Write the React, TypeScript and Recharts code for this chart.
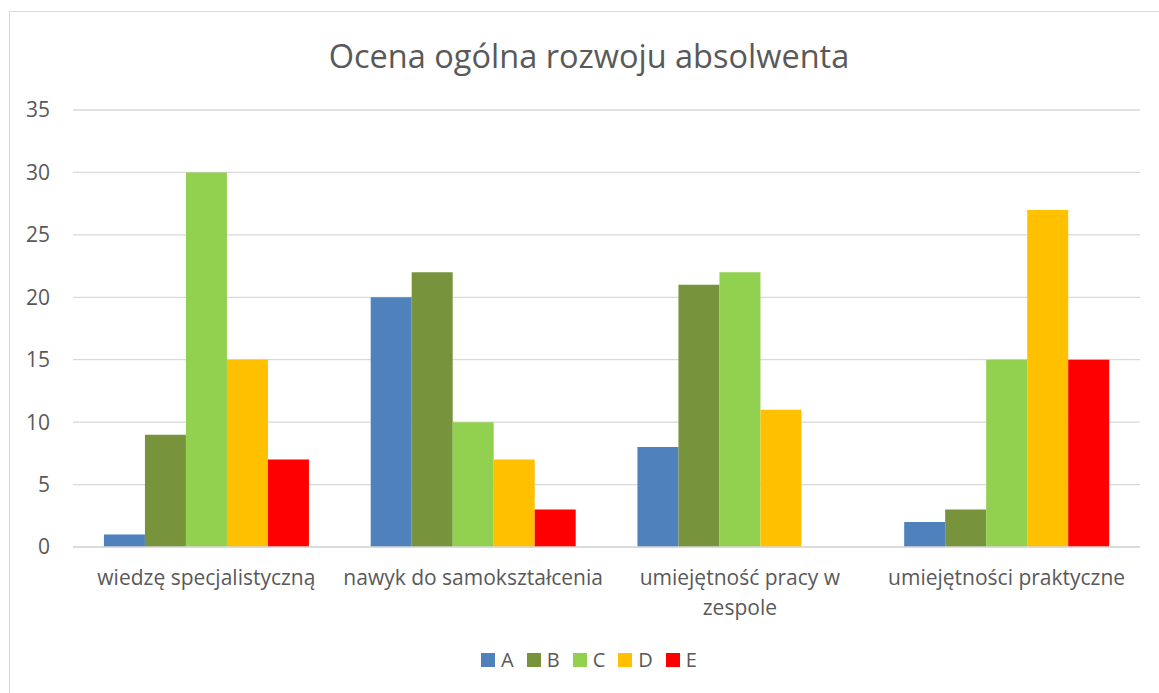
import React from 'react';
import { BarChart, Bar, XAxis, YAxis, CartesianGrid, Legend } from 'recharts';

const categories = [
  'wiedzę specjalistyczną',
  'nawyk do samokształcenia',
  'umiejętność pracy w zespole',
  'umiejętności praktyczne',
];
const seriesNames = ['A', 'B', 'C', 'D', 'E'];
const seriesA = [1, 20, 8, 2];
const seriesB = [9, 22, 21, 3];
const seriesC = [30, 10, 22, 15];
const seriesD = [15, 7, 11, 27];
const seriesE = [7, 3, 0, 15];
const yTicks = [0, 5, 10, 15, 20, 25, 30, 35];
const colors = ['#4F81BD', '#77933C', '#92D050', '#FFC000', '#FF0000'];

const allSeries = [seriesA, seriesB, seriesC, seriesD, seriesE];
const data = categories.map((name, i) => {
  const row: Record<string, string | number> = { name };
  seriesNames.forEach((s, j) => {
    row[s] = allSeries[j][i];
  });
  return row;
});

const FONT = '"Open Sans", sans-serif';
const TEXT = '#595959';
const TICK_SIZE = 21;
const WRAP_WIDTH = 262;

let ctx: CanvasRenderingContext2D | null = null;
function measure(s: string): number {
  if (!ctx) {
    const c = document.createElement('canvas');
    ctx = c.getContext('2d');
  }
  if (!ctx) return s.length * TICK_SIZE * 0.5;
  ctx.font = `${TICK_SIZE}px ${FONT}`;
  return ctx.measureText(s).width;
}

function wrap(label: string): string[] {
  const words = label.split(' ');
  const lines: string[] = [];
  let cur = '';
  words.forEach((w) => {
    const test = cur ? cur + ' ' + w : w;
    if (cur && measure(test) > WRAP_WIDTH) {
      lines.push(cur);
      cur = w;
    } else {
      cur = test;
    }
  });
  if (cur) lines.push(cur);
  return lines;
}

const CatTick = (props: any) => {
  const { x, y, payload } = props;
  const lines = wrap(String(payload.value));
  return (
    <text x={x} y={y + 30} textAnchor="middle" fill={TEXT} fontSize={TICK_SIZE} fontFamily={FONT}>
      {lines.map((l, i) => (
        <tspan key={i} x={x} dy={i === 0 ? 0 : 30}>
          {l}
        </tspan>
      ))}
    </text>
  );
};

const LegendContent = () => (
  <div style={{ display: 'flex', justifyContent: 'center', fontFamily: FONT, fontSize: 20, color: TEXT }}>
    {seriesNames.map((s, i) => (
      <div key={s} style={{ display: 'flex', alignItems: 'center', marginRight: i < seriesNames.length - 1 ? 13 : 0 }}>
        <div style={{ width: 14, height: 14, background: colors[i], marginRight: 6 }} />
        <span>{s}</span>
      </div>
    ))}
  </div>
);

export default function App() {
  return (
    <div style={{ position: 'absolute', left: 0, top: 0, width: 1159, height: 693, background: '#fff', overflow: 'hidden' }}>
      <div
        style={{
          position: 'absolute',
          left: 9,
          top: 11,
          width: 1200,
          height: 720,
          borderLeft: '1px solid #d9d9d9',
          borderTop: '1px solid #d9d9d9',
        }}
      />
      <div
        style={{
          position: 'absolute',
          left: 0,
          top: 34,
          width: 1178,
          textAlign: 'center',
          fontFamily: FONT,
          fontSize: 32.5,
          color: TEXT,
          lineHeight: '44px',
        }}
      >
        Ocena ogólna rozwoju absolwenta
      </div>
      <div style={{ position: 'absolute', left: 0, top: 0 }}>
        <BarChart
          width={1159}
          height={693}
          data={data}
          margin={{ top: 110, right: 19, left: 0, bottom: 0 }}
          barCategoryGap="11.6%"
          barGap={0}
        >
          <CartesianGrid vertical={false} stroke="#d9d9d9" strokeWidth={1.3} />
          <XAxis
            dataKey="name"
            height={146}
            axisLine={{ stroke: '#d9d9d9', strokeWidth: 1.5 }}
            tickLine={false}
            tick={<CatTick />}
            interval={0}
          />
          <YAxis
            width={73}
            domain={[0, 35]}
            ticks={yTicks}
            axisLine={false}
            tickLine={false}
            tickMargin={17}
            tick={{ fill: TEXT, fontSize: 21, fontFamily: FONT }}
          />
          <Legend
            layout="horizontal"
            verticalAlign="middle"
            align="center"
            content={<LegendContent />}
            wrapperStyle={{ top: 646, left: 0, width: 1178, height: 28 }}
          />
          {seriesNames.map((s, i) => (
            <Bar key={s} dataKey={s} fill={colors[i]} isAnimationActive={false} />
          ))}
        </BarChart>
      </div>
    </div>
  );
}
